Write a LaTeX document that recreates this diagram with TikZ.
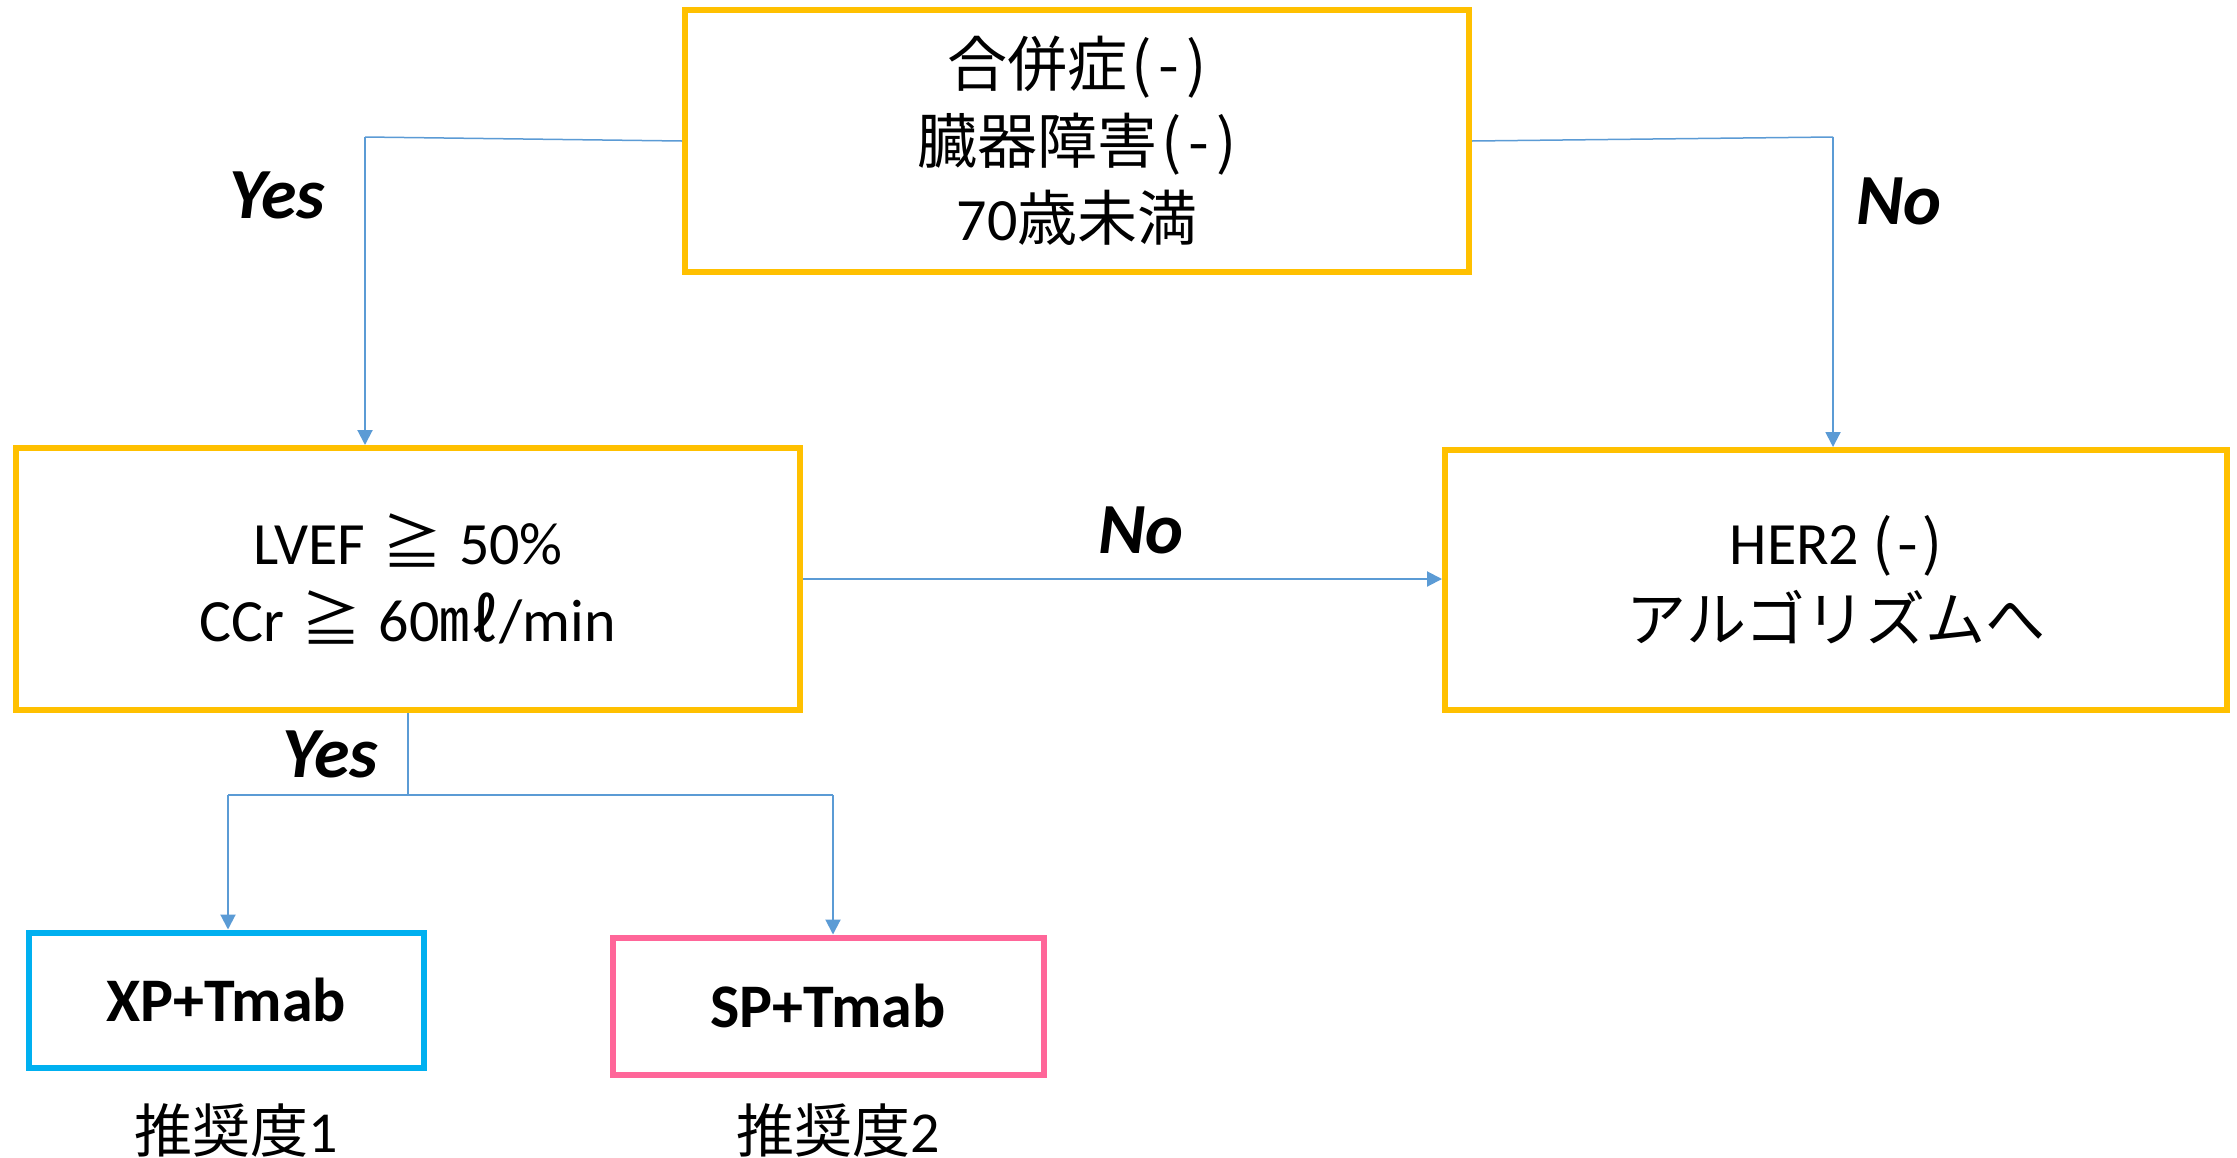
\documentclass[tikz,border=0pt]{standalone}
\usepackage{fontspec}
\setmainfont{Carlito}
\newfontfamily\jp{Noto Sans CJK JP}
\usetikzlibrary{arrows.meta}
\definecolor{boxyellow}{HTML}{FFC000}
\definecolor{boxcyan}{HTML}{00B0F0}
\definecolor{boxpink}{HTML}{FF6699}
\definecolor{linkblue}{HTML}{5B9BD5}
\newcommand{\negmark}[1]{{\jp(\kern#1-\kern#1)}}
\newcommand{\geqmark}{\kern17pt{\jp ≧}\kern17pt}
\begin{document}
\begin{tikzpicture}[x=1pt,y=-1pt,
  bigbox/.style={draw=boxyellow, line width=6pt, rectangle, minimum width=784pt,
    minimum height=262pt, inner sep=0pt, align=center,
    font=\fontsize{60}{77}\selectfont},
  regbox/.style={rectangle, line width=6pt, inner sep=0pt, align=center,
    font=\bfseries\fontsize{62}{70}\selectfont},
  answer/.style={font=\bfseries\itshape\fontsize{72}{80}\selectfont, inner sep=0pt},
  grade/.style={font=\fontsize{58}{66}\selectfont, inner sep=0pt, anchor=base},
  link/.style={draw=linkblue, line width=2pt},
  thinlink/.style={draw=linkblue, line width=1.5pt},
  arr/.style={-{Triangle[length=15pt,width=15pt]}}
]
\useasboundingbox (0,0) rectangle (2237,1157);
\fill[white] (0,0) rectangle (2237,1157);

\node[bigbox] (top) at (1077,141) {{\jp 合併症}\kern4pt\negmark{7pt}\\{\jp 臓器障害}\kern4pt\negmark{7pt}\\70{\jp 歳未満}};
\node[bigbox] (left) at (408,579) {LVEF\geqmark{}50\%\\CCr\geqmark{}60{\jp ㎖}/min};
\node[bigbox, minimum width=782pt, minimum height=260pt] (right) at (1836,580) {HER2 \negmark{4pt}\\{\jp アルゴリズムへ}};

\node[regbox, draw=boxcyan, minimum width=395pt, minimum height=135pt] (xp) at (226,1000) {XP+Tmab};
\node[regbox, draw=boxpink, minimum width=431pt, minimum height=137pt] (sp) at (828,1006) {SP+Tmab};

\node[grade] (g1) at (236,1152) {{\jp 推奨度}1};
\node[grade] (g2) at (838,1152) {{\jp 推奨度}2};

\node[answer] (yes1) at (277,195) {Yes};
\node[answer] (no1) at (1899,201) {No};
\node[answer] (no2) at (1141,530) {No};
\node[answer] (yes2) at (330,754) {Yes};

\coordinate (tl) at (365,137);
\coordinate (tr) at (1833,137);
\draw[thinlink] (top.west) -- (tl);
\draw[link, arr] (tl) -- (tl |- left.north);
\draw[thinlink] (top.east) -- (tr);
\draw[link, arr] (tr) -- (tr |- right.north);

\draw[link, arr] (left.east) -- (left.east -| right.west);

\coordinate (bj) at (408,795);
\coordinate (bl) at (228,795);
\coordinate (br) at (833,795);
\draw[thinlink] (left.south) -- (bj);
\draw[link] (bl) -- (br);
\draw[link, arr] (bl) -- (bl |- xp.north);
\draw[link, arr] (br) -- (br |- sp.north);
\end{tikzpicture}
\end{document}
